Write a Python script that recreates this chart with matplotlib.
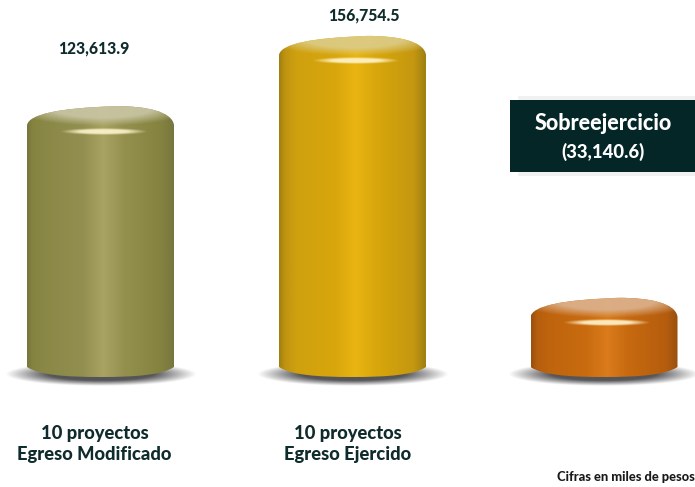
import numpy as np
import matplotlib
matplotlib.use("Agg")
import matplotlib.pyplot as plt
from matplotlib.colors import LinearSegmentedColormap, to_rgb
from matplotlib.patches import PathPatch, Rectangle
from matplotlib.path import Path

plt.rcParams['font.family'] = ['Lato', 'DejaVu Sans']

values = [123613.9, 156754.5, 33140.6]
value_labels = ['123,613.9', '156,754.5']
categories = ['10 proyectos\nEgreso Modificado', '10 proyectos\nEgreso Ejercido']
gap_title = 'Sobreejercicio'
gap_label = '(33,140.6)'
note = 'Cifras en miles de pesos'

centers = [100.5, 352.5, 604]
stops = [0, 0.04, 0.12, 0.38, 0.52, 0.66, 0.92, 1]
body_colors = [
    ['#77763f', '#85843f', '#8a8847', '#928f50', '#aaa363', '#94914f', '#84823f', '#77763f'],
    ['#a07f12', '#c09410', '#cfa110', '#d8a60c', '#e8b512', '#d9a70c', '#c39710', '#a07f12'],
    ['#99500f', '#b55e0e', '#bf640e', '#c96c10', '#da7c1c', '#c76a10', '#b55d0e', '#99500f'],
]
top_colors = ['#c8c4a2', '#dccb84', '#dcb08a']

K = 472.0      # value units per pixel
BASE = 368     # pixel row of value zero
FOOT = 9       # the cylinders reach this many pixels below zero
W = 147        # cylinder width in pixels
DARK = '#0f2b2b'

fig = plt.figure(figsize=(6.95, 4.87), dpi=100)
ax = fig.add_axes([0, 0, 1, 1])
ax.axis('off')


def blob(cx, py, rx, ry, color, alpha, z, clip=None):
    # soft elliptical spot, pixel positions converted to value units
    xs = np.linspace(-1, 1, 160)
    ys = np.linspace(-1, 1, 80)
    xx, yy = np.meshgrid(xs, ys)
    a = np.clip((1 - np.hypot(xx, yy)) * 2.2, 0, 1)
    img = np.zeros(a.shape + (4,))
    img[..., :3] = to_rgb(color)
    img[..., 3] = alpha * a
    im = ax.imshow(img, extent=[cx - rx, cx + rx, (BASE - py - ry) * K, (BASE - py + ry) * K],
                   aspect='auto', zorder=z, interpolation='bilinear')
    if clip is not None:
        im.set_clip_path(clip)
    return im


def cylinder(cx, value, cols, top_col):
    l, r = cx - W / 2, cx + W / 2
    top = value            # top of the lid, in value units
    sh = 19 * K            # shoulder drop below the lid top
    foot = -FOOT * K
    low = foot + 10 * K    # curve of the bottom edge
    codes = [Path.MOVETO, Path.LINETO, Path.CURVE4, Path.CURVE4, Path.CURVE4,
             Path.CURVE4, Path.CURVE4, Path.CURVE4, Path.LINETO,
             Path.CURVE4, Path.CURVE4, Path.CURVE4, Path.CURVE4, Path.CURVE4, Path.CURVE4]
    verts = [(l, low), (l, top - sh), (l + 2, top - 8 * K), (cx - 42, top - 2 * K), (cx + 15, top),
             (cx + 45, top), (r - 2, top - 5 * K), (r, top - sh), (r, low),
             (r - 12, foot + 2 * K), (cx + 35, foot), (cx, foot), (cx - 35, foot), (l + 12, foot + 2 * K), (l, low)]
    outline = Path(verts, codes)

    blob(cx, BASE + 6, 96, 12, '#4c4c50', 0.95, 1)

    cmap = LinearSegmentedColormap.from_list('body', list(zip(stops, cols)))
    grad = np.linspace(0, 1, 256).reshape(1, -1)
    im = ax.imshow(grad, cmap=cmap, extent=[l, r, foot, top], aspect='auto', zorder=2)
    patch = PathPatch(outline, fc='none', ec='none')
    ax.add_patch(patch)
    im.set_clip_path(patch)

    # lid: soft light ellipse clipped to the outline
    py = BASE - top / K
    blob(cx + 2, py + 2, W * 0.62, 18, top_col, 0.95, 3, clip=patch)
    # highlight below the lid
    blob(cx + 3, py + 25, 44, 3.5, '#fff6cf', 0.9, 4, clip=patch)


for cx, v, cols, tc in zip(centers, values, body_colors, top_colors):
    cylinder(cx, v, cols, tc)

ax.set_xlim(0, 695)
ax.set_ylim((BASE - 487) * K, BASE * K)


def row(py):
    return (BASE - py) * K


ax.text(93.5, row(48), value_labels[0], ha='center', va='center', fontsize=11.3,
        fontweight='black', color=DARK)
ax.text(364, row(15), value_labels[1], ha='center', va='center', fontsize=11.3,
        fontweight='black', color=DARK)
ax.text(94.5, row(444), categories[0], ha='center', va='center', fontsize=13.2,
        fontweight='black', color=DARK, linespacing=1.33)
ax.text(348, row(444), categories[1], ha='center', va='center', fontsize=13.2,
        fontweight='black', color=DARK, linespacing=1.33)

# faint shadow round the box, then the box
ax.add_patch(Rectangle((518, row(176)), 177, 80 * K, fc='#f1f1f1', ec='none', zorder=4))
ax.add_patch(Rectangle((510, row(172)), 185, 72 * K, fc='#042626', ec='none', zorder=5))
ax.text(603, row(123), gap_title, ha='center', va='center', fontsize=15.5,
        fontweight='black', color='white', zorder=6)
ax.text(603, row(152), gap_label, ha='center', va='center', fontsize=13.3,
        fontweight='black', color='white', zorder=6)
ax.text(695, row(477), note, ha='right', va='center', fontsize=9.3,
        fontweight='black', color='#1a1a1a')

fig.savefig('out.png', dpi=100)
